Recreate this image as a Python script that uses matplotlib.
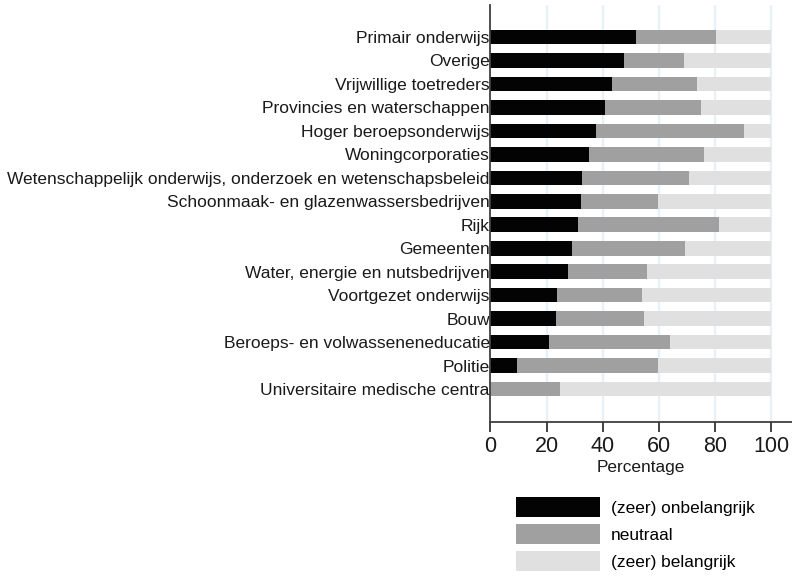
import matplotlib
matplotlib.use("Agg")
import matplotlib.pyplot as plt
from matplotlib.patches import Patch
import numpy as np

plt.rcParams['font.family'] = ['Liberation Sans', 'DejaVu Sans']

# sectors, top to bottom
sectors = [
    "Primair onderwijs",
    "Overige",
    "Vrijwillige toetreders",
    "Provincies en waterschappen",
    "Hoger beroepsonderwijs",
    "Woningcorporaties",
    "Wetenschappelijk onderwijs, onderzoek en wetenschapsbeleid",
    "Schoonmaak- en glazenwassersbedrijven",
    "Rijk",
    "Gemeenten",
    "Water, energie en nutsbedrijven",
    "Voortgezet onderwijs",
    "Bouw",
    "Beroeps- en volwasseneneducatie",
    "Politie",
    "Universitaire medische centra",
]

# percentages per answer category
onbelangrijk = [51.8, 47.5, 43.3, 40.9, 37.5, 35.2, 32.7, 32.3,
                31.3, 28.9, 27.5, 23.8, 23.2, 21.0, 9.4, 0.0]
neutraal = [28.6, 21.6, 30.4, 34.3, 52.9, 40.9, 38.2, 27.5,
            50.3, 40.6, 28.2, 30.3, 31.5, 43.1, 50.2, 24.7]
belangrijk = [100 - a - b for a, b in zip(onbelangrijk, neutraal)]

series_labels = ["(zeer) onbelangrijk", "neutraal", "(zeer) belangrijk"]
colors = ["#030303", "#a0a0a0", "#e0e0e0"]

fig = plt.figure(figsize=(7.92, 5.86), dpi=100)
ax = fig.add_axes([490.5 / 792, 1 - 422 / 586, (792 - 490.5) / 792, (422 - 5) / 586])

y = np.arange(len(sectors))
h = 0.62
left = np.zeros(len(sectors))
for vals, col in zip([onbelangrijk, neutraal, belangrijk], colors):
    ax.barh(y, vals, left=left, height=h, color=col, linewidth=0, zorder=2)
    left += np.array(vals)

ax.set_xlim(0, 107.5)
ax.set_ylim(len(sectors) - 1 + 1.4, -1.36)
# axis (and its labels) below the bars, so long labels slide under them
ax.set_axisbelow(True)
ax.xaxis.grid(True, color="#e6f0f6", linewidth=1.6)
ax.set_xticks([0, 20, 40, 60, 80, 100])

ax.set_yticks(y)
ax.set_yticklabels(sectors, fontsize=12.5, color="#1a1a1a")
ax.tick_params(axis="y", length=0, pad=0.5)
ax.tick_params(axis="x", length=7, width=1.3, color="#333333", labelsize=15.5,
               labelcolor="#1a1a1a", pad=3)

for s in ["top", "right"]:
    ax.spines[s].set_visible(False)
for s in ["left", "bottom"]:
    ax.spines[s].set_color("#404040")
    ax.spines[s].set_linewidth(1.3)
    ax.spines[s].set_zorder(3)

ax.set_xlabel("Percentage", fontsize=12.4, color="#1a1a1a", labelpad=2)

handles = [Patch(facecolor=c, edgecolor="none") for c in colors]
fig.legend(handles, series_labels, loc="upper left",
           bbox_to_anchor=(516 / 792, 1 - 497 / 586), frameon=False,
           fontsize=12.4, handlelength=4.9, handleheight=1.4,
           handletextpad=0.62, labelspacing=0.42, borderpad=0,
           borderaxespad=0)

fig.savefig("out.png", dpi=100)
